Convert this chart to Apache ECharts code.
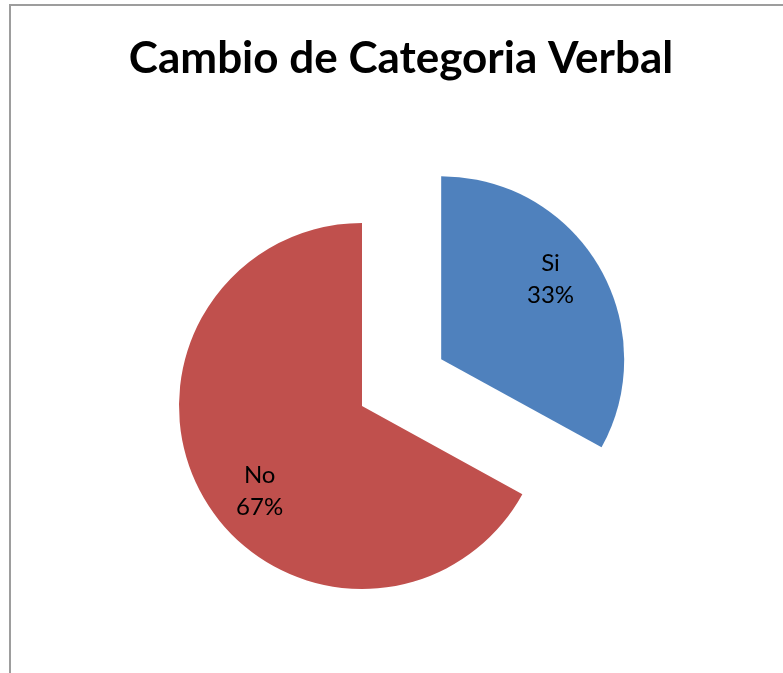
<!DOCTYPE html>
<html>
<head>
<meta charset="utf-8">
<script src="https://cdn.jsdelivr.net/npm/echarts@6/dist/echarts.min.js"></script>
<style>
  html, body { margin: 0; padding: 0; background: #fff; }
  #chart { width: 783px; height: 673px; }
</style>
</head>
<body>
<div id="chart"></div>
<script>
// chart data
var categories = ['Si', 'No'];
var values = [33, 67];
var colors = ['#4F81BD', '#C0504D'];

// nudge labels to where the original sits them
var labelShift = [[28, -32], [-21, 37]];

var myChart = echarts.init(document.getElementById('chart'));

var pieData = categories.map(function(name, i) {
    return {
        name: name,
        value: values[i],
        selected: i === 0,
        itemStyle: { color: colors[i] }
    };
});

var option = {
    animation: false,
    backgroundColor: '#fff',
    title: {
        text: 'Cambio de Categoria Verbal',
        left: 396,
        textAlign: 'center',
        top: 32,
        textStyle: {
            fontFamily: 'Lato',
            fontWeight: 'bold',
            fontSize: 44,
            color: '#000'
        }
    },
    graphic: [{
        type: 'rect',
        shape: { x: 10, y: 5, width: 800, height: 700 },
        style: { fill: 'none', stroke: '#9d9d9d', lineWidth: 2 },
        silent: true
    }],
    series: [{
        type: 'pie',
        center: [362, 406],
        radius: [0, 183],
        startAngle: 90,
        clockwise: true,
        selectedMode: 'single',
        selectedOffset: 92,
        emphasis: { disabled: true },
        label: {
            show: true,
            position: 'inside',
            formatter: '{b}\n{d}%',
            fontFamily: 'Lato',
            fontSize: 24,
            lineHeight: 32,
            color: '#000'
        },
        percentPrecision: 0,
        labelLayout: function(params) {
            var s = labelShift[params.dataIndex];
            return { dx: s[0], dy: s[1] };
        },
        data: pieData
    }]
};

myChart.setOption(option);
</script>
</body>
</html>
